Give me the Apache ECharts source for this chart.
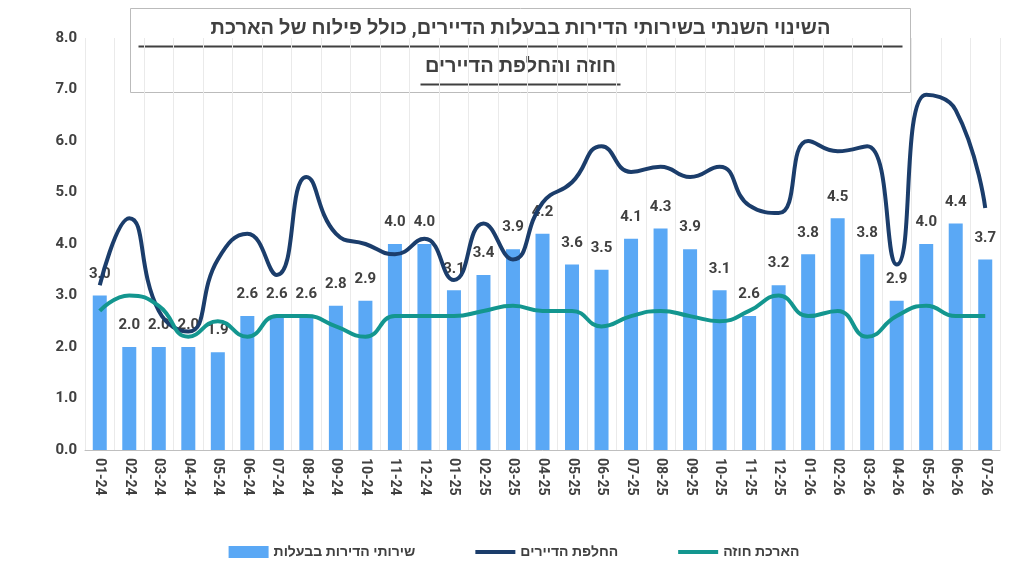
<!DOCTYPE html>
<html>
<head>
<meta charset="utf-8">
<script src="https://cdn.jsdelivr.net/npm/echarts@6/dist/echarts.min.js"></script>
</head>
<body style="margin:0">
<div id="main" style="width:1028px;height:582px;"></div>
<script type="text/javascript">
    var months = ['01-24','02-24','03-24','04-24','05-24','06-24','07-24','08-24','09-24','10-24','11-24','12-24',
        '01-25','02-25','03-25','04-25','05-25','06-25','07-25','08-25','09-25','10-25','11-25','12-25',
        '01-26','02-26','03-26','04-26','05-26','06-26','07-26'];
    // שירותי הדירות בבעלות
    var owned = [3.0,2.0,2.0,2.0,1.9,2.6,2.6,2.6,2.8,2.9,4.0,4.0,3.1,3.4,3.9,4.2,3.6,3.5,4.1,4.3,3.9,3.1,2.6,3.2,3.8,4.5,3.8,2.9,4.0,4.4,3.7];
    // החלפת הדיירים
    var tenantChange = [3.2,4.5,2.7,2.3,3.7,4.2,3.4,5.3,4.2,4.0,3.8,4.1,3.3,4.4,3.7,4.8,5.2,5.9,5.4,5.5,5.3,5.5,4.75,4.6,6.0,5.8,5.9,3.6,6.9,6.6,4.7];
    // הארכת חוזה
    var renewal = [2.7,3.0,2.8,2.2,2.5,2.2,2.6,2.6,2.4,2.2,2.6,2.6,2.6,2.7,2.8,2.7,2.7,2.4,2.6,2.7,2.6,2.5,2.7,3.0,2.6,2.7,2.2,2.6,2.8,2.6,2.6];

    var myChart = echarts.init(document.getElementById('main'));
    var font = 'Roboto, "Noto Sans", sans-serif';
    var lineIcon = 'path://M0,0H40V4H0Z';
    var option = {
        textStyle: { fontFamily: font },
        graphic: [{
            type: 'group', left: 130, top: 8,
            children: [
                { type: 'rect', shape: { x: 0, y: 0, width: 780, height: 84 },
                  style: { fill: '#fff', stroke: '#bbb', lineWidth: 1 } },
                { type: 'text', x: 390, y: 20, style: { text: 'השינוי השנתי בשירותי הדירות בבעלות הדיירים, כולל פילוח של הארכת',
                  font: 'bold 20px ' + font, fill: '#404040', align: 'center', verticalAlign: 'middle' } },
                { type: 'rect', shape: { x: 8, y: 37, width: 764, height: 2 }, style: { fill: '#404040' } },
                { type: 'text', x: 390, y: 58, style: { text: 'חוזה והחלפת הדיירים',
                  font: 'bold 20px ' + font, fill: '#404040', align: 'center', verticalAlign: 'middle' } },
                { type: 'rect', shape: { x: 290, y: 75, width: 200, height: 2 }, style: { fill: '#404040' } }
            ]
        }],
        legend: {
            bottom: 18, left: 'center', itemGap: 60,
            textStyle: { fontSize: 14, fontWeight: 'bold', color: '#404040' },
            data: [
                { name: 'שירותי הדירות בבעלות', icon: 'rect', itemStyle: { color: '#5aa8f5' } },
                { name: 'החלפת הדיירים', icon: lineIcon },
                { name: 'הארכת חוזה', icon: lineIcon }
            ],
            itemWidth: 40, itemHeight: 12
        },
        grid: { left: 85, right: 28, top: 38, bottom: 132 },
        xAxis: {
            type: 'category', data: months,
            axisLine: { lineStyle: { color: '#bfbfbf' } },
            axisTick: { show: false },
            splitLine: { show: true, lineStyle: { color: '#eaeaea' } },
            axisLabel: { rotate: -90, fontSize: 14, fontWeight: 'bold', color: '#404040', interval: 0 }
        },
        yAxis: {
            type: 'value', min: 0, max: 8, interval: 1,
            splitLine: { show: false },
            axisLabel: { fontSize: 15, fontWeight: 'bold', color: '#404040', formatter: function (v) { return v.toFixed(1); } }
        },
        series: [{
            name: 'שירותי הדירות בבעלות', type: 'bar', data: owned, barWidth: 14,
            itemStyle: { color: '#5aa8f5' },
            label: { show: true, position: 'top', distance: 14, fontSize: 15, fontWeight: 'bold', color: '#404040',
                formatter: function (p) { return p.value.toFixed(1); } }
        }, {
            name: 'החלפת הדיירים', type: 'line', data: tenantChange, smooth: true, symbol: 'none',
            lineStyle: { width: 4, color: '#1b3d6b' }, itemStyle: { color: '#1b3d6b' }
        }, {
            name: 'הארכת חוזה', type: 'line', data: renewal, smooth: true, symbol: 'none',
            lineStyle: { width: 4, color: '#13968f' }, itemStyle: { color: '#13968f' }
        }]
    };
    myChart.setOption(option);
</script>
</body>
</html>
